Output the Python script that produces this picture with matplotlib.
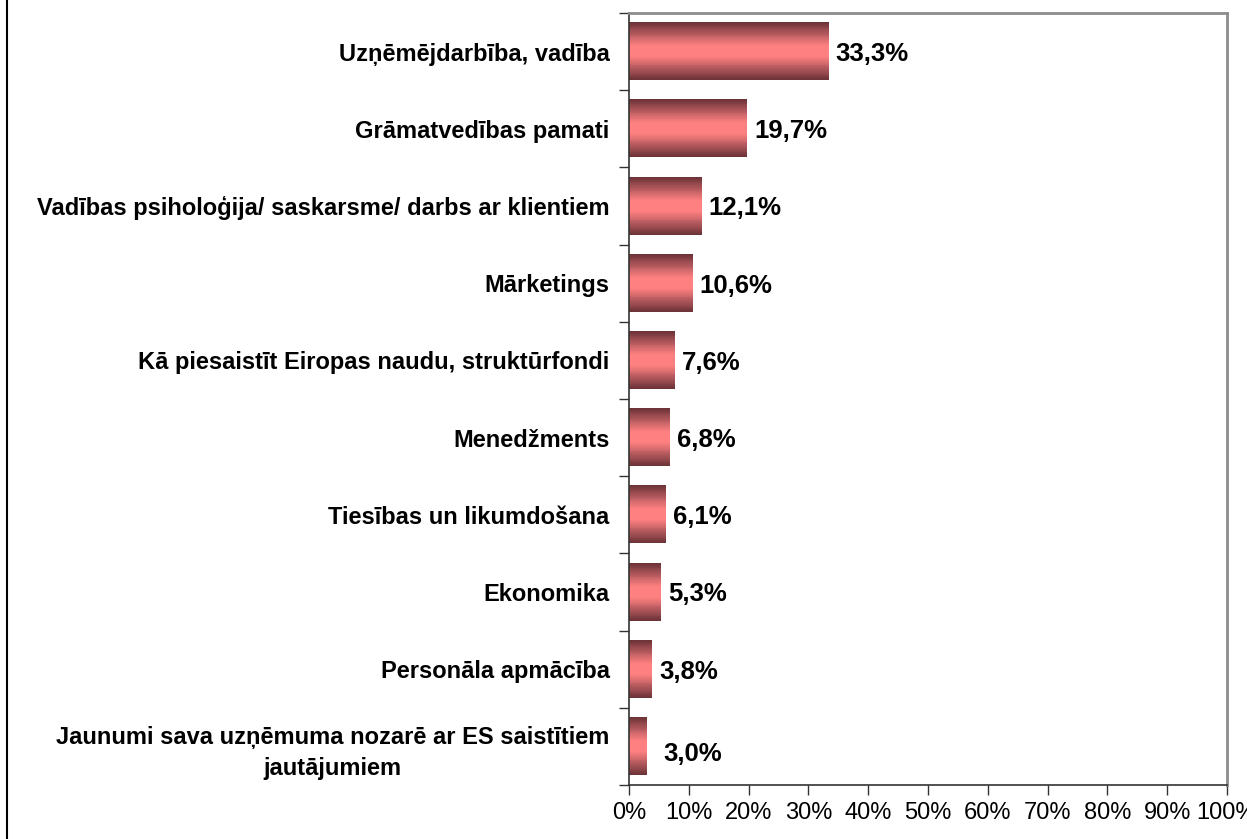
"""Horizontal bar chart with shaded (cylinder-like) bars."""

import matplotlib.pyplot as plt
import numpy as np
from matplotlib.colors import LinearSegmentedColormap
from matplotlib.lines import Line2D

plt.rcParams["font.family"] = ["Liberation Sans", "DejaVu Sans"]

categories = [
    "Uzņēmējdarbība, vadība",
    "Grāmatvedības pamati",
    "Vadības psiholoģija/ saskarsme/ darbs ar klientiem",
    "Mārketings",
    "Kā piesaistīt Eiropas naudu, struktūrfondi",
    "Menedžments",
    "Tiesības un likumdošana",
    "Ekonomika",
    "Personāla apmācība",
    "Jaunumi sava uzņēmuma nozarē ar ES saistītiem\njautājumiem",
]
values = [33.3, 19.7, 12.1, 10.6, 7.6, 6.8, 6.1, 5.3, 3.8, 3.0]
x_ticks = list(range(0, 101, 10))
x_tick_labels = [f"{t}%" for t in x_ticks]

BAR_H = 0.74
shade = LinearSegmentedColormap.from_list(
    "shade", ["#6e3337", "#b45a5e", "#ff8080", "#ff8080", "#b45a5e", "#6e3337"]
)

fig = plt.figure(figsize=(12.47, 8.39), dpi=100)
ax = fig.add_axes([629 / 1247, 54 / 839, 598 / 1247, 772 / 839])

n = len(categories)
ypos = np.arange(n)
grad = np.linspace(0, 1, 64).reshape(-1, 1)
for y, v in zip(ypos, values):
    ax.imshow(grad, cmap=shade, aspect="auto", interpolation="nearest",
              extent=(0, v, y + BAR_H / 2, y - BAR_H / 2), zorder=2)
    dx = 2.7 if v < 3.5 else 1.2
    dy = 0.1 if v < 3.5 else 0.03
    ax.text(v + dx, y + dy, f"{v:.1f}%".replace(".", ","), va="center",
            ha="left", fontsize=18.5, fontweight="bold", zorder=3)

ax.set_xlim(0, 100)
ax.set_ylim(n - 0.5, -0.5)

ax.set_xticks(x_ticks)
ax.set_xticklabels(x_tick_labels, fontsize=17)
ax.set_yticks(ypos)
ax.set_yticklabels(categories, fontsize=17, fontweight="bold",
                   multialignment="center", linespacing=1.45)
ax.tick_params(axis="y", length=0, pad=14)
ax.set_yticks(np.arange(n + 1) - 0.5, minor=True)
ax.tick_params(axis="y", which="minor", length=7, width=1, color="#333333")
ax.tick_params(axis="x", length=7, width=1, color="#333333", pad=5)

for side in ("left", "bottom"):
    ax.spines[side].set_color("#333333")
    ax.spines[side].set_linewidth(1.2)
for side in ("top", "right"):
    ax.spines[side].set_color("#8c8c8c")
    ax.spines[side].set_linewidth(2)

fig.add_artist(Line2D([7 / 1247, 7 / 1247], [0, 1], color="black", lw=1.5))

fig.savefig("out.png", dpi=100)
